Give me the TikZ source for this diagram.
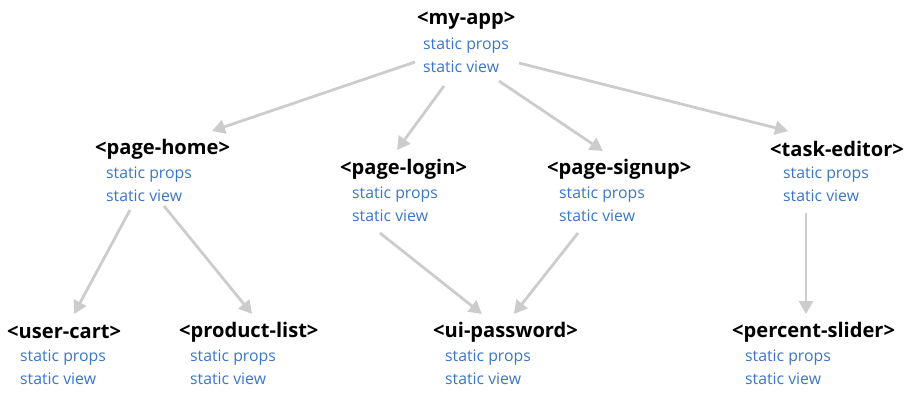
\documentclass[tikz,border=0pt]{standalone}
\usepackage{fontspec}
\setmainfont{Open Sans}
\usetikzlibrary{arrows.meta}
\definecolor{propblue}{RGB}{58,118,200}
\definecolor{edgegray}{RGB}{204,204,204}
\tikzset{
  title/.style={anchor=west, inner sep=0pt, font=\fontsize{20.1}{24}\selectfont\bfseries},
  prop/.style={anchor=west, inner sep=0pt, text=propblue, font=\fontsize{15.8}{18}\selectfont},
  edge/.style={draw=edgegray, line width=2.8pt, -{Triangle[length=13pt,width=14pt]}},
}
\begin{document}
\begin{tikzpicture}[x=1pt,y=-1pt]
\useasboundingbox (0,0) rectangle (915,400);
% my-app
\node[title] (t0) at (417,21) {<my-app>};
\node[prop] (p0a) at (423,46) {static props};
\node[prop] (p0b) at (423,67) {static view};
% page-home
\node[title] (t1) at (95,149) {<page-home>};
\node[prop] (p1a) at (106,175) {static props};
\node[prop] (p1b) at (106,196) {static view};
% page-login
\node[title] (t2) at (340,169) {<page-login>};
\node[prop] (p2a) at (352,195) {static props};
\node[prop] (p2b) at (352,216) {static view};
% page-signup
\node[title] (t3) at (547,169) {<page-signup>};
\node[prop] (p3a) at (559,195) {static props};
\node[prop] (p3b) at (559,216) {static view};
% task-editor
\node[title] (t4) at (770,149) {<task-editor>};
\node[prop] (p4a) at (783,175) {static props};
\node[prop] (p4b) at (783,196) {static view};
% user-cart
\node[title] (t5) at (7,332) {<user-cart>};
\node[prop] (p5a) at (20,358) {static props};
\node[prop] (p5b) at (20,379) {static view};
% product-list
\node[title] (t6) at (179,332) {<product-list>};
\node[prop] (p6a) at (190,358) {static props};
\node[prop] (p6b) at (190,379) {static view};
% ui-password
\node[title] (t7) at (433,332) {<ui-password>};
\node[prop] (p7a) at (445,358) {static props};
\node[prop] (p7b) at (445,379) {static view};
% percent-slider
\node[title] (t8) at (732,332) {<percent-slider>};
\node[prop] (p8a) at (745,358) {static props};
\node[prop] (p8b) at (745,379) {static view};
% connector endpoints
\coordinate (s01) at (415,62);  \coordinate (e01) at (212,131);
\coordinate (s02) at (444,86);  \coordinate (e02) at (397,150);
\coordinate (s03) at (499,81);  \coordinate (e03) at (603,151);
\coordinate (s04) at (519,63);  \coordinate (e04) at (788,131);
\coordinate (s15) at (130,210); \coordinate (e15) at (74,314);
\coordinate (s16) at (164,206); \coordinate (e16) at (252,314);
\coordinate (s27) at (380,233); \coordinate (e27) at (482,314);
\coordinate (s37) at (578,233); \coordinate (e37) at (514,314);
\coordinate (s48) at (806,213); \coordinate (e48) at (806,314);
\draw[edge] (s01) -- (e01);
\draw[edge] (s02) -- (e02);
\draw[edge] (s03) -- (e03);
\draw[edge] (s04) -- (e04);
\draw[edge] (s15) -- (e15);
\draw[edge] (s16) -- (e16);
\draw[edge] (s27) -- (e27);
\draw[edge] (s37) -- (e37);
\draw[edge] (s48) -- (e48);
\end{tikzpicture}
\end{document}
